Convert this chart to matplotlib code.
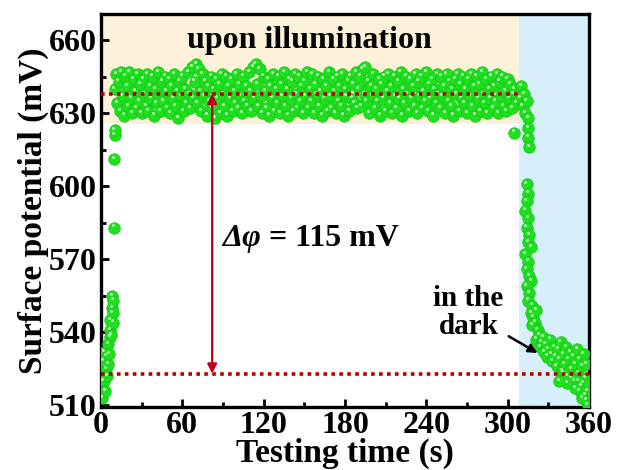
import matplotlib
matplotlib.use("Agg")
import matplotlib.pyplot as plt
import numpy as np

# surface potential (mV)
# rise after switching light on
t_on = [1, 1.5, 2, 2.5, 3, 3.5, 4, 4.5, 5, 5.5, 6, 6.5, 7, 7, 7.5, 8, 8, 8.5, 9, 9, 9.5, 9.5, 10, 10]
v_on = [513, 528, 520, 532, 516, 525, 530, 522, 527, 535, 531, 538, 541, 545, 539, 550, 555, 548, 544, 553,
        583, 611, 621, 623]

# under illumination, one reading per second from 10 s to 307 s
t_light = np.arange(10, 308)
v_light = [640, 646, 634, 643, 631, 647, 637, 629, 645, 641, 633, 647, 636, 630, 644, 639, 632, 646, 635, 642,
           630, 644, 638, 633, 646, 631, 641, 636, 645, 629, 640, 634, 647, 637, 631, 643, 635, 645, 639, 632,
           644, 630, 641, 636, 646, 633, 639, 628, 643, 637, 645, 631, 640, 634, 647, 638, 632, 649, 636, 643,
           650, 634, 648, 639, 631, 646, 637, 643, 629, 641, 635, 645, 632, 640, 628, 644, 636, 642, 630, 646,
           638, 633, 645, 629, 641, 636, 644, 631, 639, 634, 646, 632, 642, 637, 630, 645, 635, 641, 633, 647,
           639, 631, 649, 636, 650, 642, 633, 648, 637, 630, 645, 639, 632, 644, 629, 641, 636, 646, 631, 640,
           634, 645, 630, 642, 637, 647, 633, 640, 629, 644, 636, 643, 631, 646, 638, 632, 645, 635, 641, 630,
           643, 637, 647, 632, 640, 635, 646, 630, 642, 638, 645, 633, 639, 629, 644, 636, 641, 631, 647, 637,
           632, 644, 639, 630, 645, 635, 641, 633, 646, 629, 640, 637, 643, 631, 645, 636, 642, 634, 647, 632,
           640, 645, 633, 648, 638, 649, 635, 643, 630, 641, 637, 646, 632, 640, 635, 644, 629, 642, 636, 645,
           631, 639, 646, 634, 641, 630, 645, 637, 632, 643, 636, 647, 629, 640, 634, 645, 638, 631, 644, 636,
           641, 633, 646, 630, 643, 637, 645, 632, 639, 635, 647, 631, 642, 636, 644, 629, 640, 634, 646, 638,
           632, 645, 637, 641, 630, 646, 635, 643, 633, 640, 629, 644, 638, 646, 631, 642, 636, 645, 634, 640,
           630, 644, 637, 646, 633, 641, 629, 645, 636, 642, 631, 647, 638, 634, 644, 630, 640, 636, 645, 632,
           641, 635, 646, 630, 643, 637, 645, 633, 639, 631, 644, 636, 642, 632, 638, 640, 634, 637]

# decay after switching light off
t_off = [305, 309, 310, 311, 312, 313, 314, 315, 315, 315, 316,
         314, 315, 314,
         313, 315, 314, 316, 315, 317,
         313, 315, 314, 316, 317,
         314, 316, 315, 318, 317, 319, 320, 321, 318,
         322, 321, 323, 325, 324, 326, 327, 328, 330, 329,
         331, 332, 333, 334, 335, 336, 337, 338, 339, 340,
         341, 342, 343, 344, 345, 346, 347, 348, 349, 350,
         351, 352, 353, 354, 355, 356, 357, 358, 359, 358, 359, 357, 356, 355, 353, 352, 350, 347, 344, 341, 338]
v_off = [622, 636, 641, 633, 638, 630, 635, 628, 624, 620, 616,
         601, 597, 594,
         590, 587, 583, 580, 577, 575,
         572, 569, 566, 563, 561,
         559, 556, 553, 551, 548, 546, 544, 549, 543,
         541, 537, 539, 536, 534, 538, 532, 535, 533, 530,
         537, 531, 528, 534, 530, 526, 533, 529, 536, 524,
         531, 527, 534, 522, 529, 532, 525, 530, 520, 527,
         533, 523, 529, 518, 526, 531, 521, 527, 516, 512, 510, 514, 519, 513, 516, 520, 517, 521, 519, 523, 520]

level_light = 638
level_dark = 523
t_switch = 308

plt.rcParams["font.family"] = "Liberation Serif"
plt.rcParams["font.weight"] = "bold"

fig = plt.figure(figsize=(6.17, 4.70), dpi=100)
ax = fig.add_axes([0.1637, 0.134, 0.791, 0.836])

ax.set_xlim(0, 360)
ax.set_ylim(509.3, 670.7)

# background regions
ax.fill_between([0, t_switch], 625.5, 670.7, color="#fdf2d9", lw=0, zorder=0)
ax.axvspan(t_switch, 360, color="#d7effb", lw=0, zorder=0)

t_all = np.concatenate([t_on, t_light, t_off])
v_all = np.concatenate([v_on, v_light, v_off])

# green balls with a small highlight
ax.scatter(t_all, v_all, s=68, color="#1fe01f", edgecolors="#18c818", linewidths=0.6, zorder=3)
ax.scatter(t_all - 0.9, v_all + 0.9, s=4, color="#c8ffc8", linewidths=0, zorder=4)

# reference levels
ax.plot([0, t_switch], [level_light, level_light], color="#b40000", lw=2.6, ls=(0, (1, 1.2)), zorder=5)
ax.plot([0, 360], [level_dark, level_dark], color="#b40000", lw=2.6, ls=(0, (1, 1.2)), zorder=5)
ax.annotate("", xy=(82, level_dark), xytext=(82, level_light),
            arrowprops=dict(arrowstyle="<|-|>", color="#c0001a", lw=1.6, mutation_scale=14,
                            shrinkA=0, shrinkB=0), zorder=6)

dphi = ax.text(89, 578.5, "Δφ", fontsize=23, fontstyle="italic", va="center", ha="left")
ax.annotate(" = 115 mV", xy=(1, 0.5), xycoords=dphi, fontsize=23, va="center", ha="left")
ax.text(154, 660, "upon illumination", fontsize=23, va="center", ha="center")
ax.annotate("in the\ndark", xy=(322, 531.5), xytext=(271, 548), fontsize=21, ha="center", va="center",
            linespacing=1.05,
            arrowprops=dict(arrowstyle="-|>", color="black", lw=1.8, mutation_scale=13,
                            shrinkA=2, shrinkB=0))

ax.set_xticks(np.arange(0, 361, 60))
ax.set_xticks(np.arange(30, 361, 60), minor=True)
ax.set_yticks(np.arange(510, 661, 30))
ax.set_yticks(np.arange(525, 670, 30), minor=True)
ax.tick_params(which="both", direction="in", width=2, labelsize=23, top=False, right=False)
ax.tick_params(which="major", length=6, pad=3)
ax.tick_params(which="minor", length=3.5)
for s in ax.spines.values():
    s.set_linewidth(2.4)

ax.set_xlabel("Testing time (s)", fontsize=24, fontweight="bold", labelpad=-2)
ax.set_ylabel("Surface potential (mV)", fontsize=24, fontweight="bold", labelpad=0)

fig.savefig("out.png", dpi=100)
